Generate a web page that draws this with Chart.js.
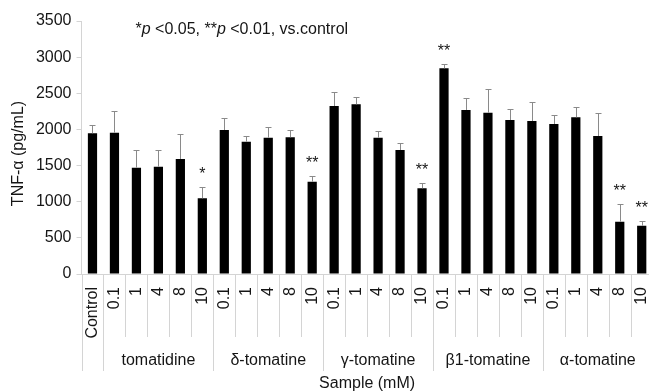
<!DOCTYPE html>
<html>
<head>
<meta charset="utf-8">
<script src="https://cdn.jsdelivr.net/npm/chart.js@4.4.0/dist/chart.umd.min.js"></script>
<style>
  html, body { margin: 0; padding: 0; background: #fff; overflow: hidden; }
  #wrap { width: 666px; height: 392px; }
</style>
</head>
<body>
<div id="wrap"><canvas id="chart"></canvas></div>
<script>
const categories = ['Control',
  '0.1', '1', '4', '8', '10',
  '0.1', '1', '4', '8', '10',
  '0.1', '1', '4', '8', '10',
  '0.1', '1', '4', '8', '10',
  '0.1', '1', '4', '8', '10'];
const groupNames = ['', 'tomatidine', 'δ-tomatine', 'γ-tomatine', 'β1-tomatine', 'α-tomatine'];
const groupSizes = [1, 5, 5, 5, 5, 5];
const tnfValues = [1946,
  1955, 1471, 1485, 1591, 1047,
  1992, 1830, 1886, 1891, 1277,
  2324, 2347, 1886, 1715, 1185,
  2845, 2269, 2232, 2130, 2116,
  2075, 2168, 1909, 724, 668];
const errorValues = [115,
  300, 244, 230, 346, 152,
  162, 79, 143, 105, 79,
  198, 106, 92, 101, 69,
  56, 170, 327, 152, 267,
  124, 146, 314, 240, 65];
const significance = ['',
  '', '', '', '', '*',
  '', '', '', '', '**',
  '', '', '', '', '**',
  '**', '', '', '', '',
  '', '', '', '**', '**'];
const yTicks = [0, 500, 1000, 1500, 2000, 2500, 3000, 3500];

const FONT = '"Liberation Sans", Arial, sans-serif';
const TEXT = '#151515';
const LIGHT = '#d4d4d4';

// error bars, stars, separators, group names and titles
const extras = {
  id: 'extras',
  afterDatasetsDraw(chart) {
    const { ctx, chartArea, scales: { x, y } } = chart;
    const meta = chart.getDatasetMeta(0);
    ctx.save();

    ctx.strokeStyle = '#8a8a8a';
    ctx.lineWidth = 1;
    ctx.fillStyle = TEXT;
    ctx.font = '16px ' + FONT;
    ctx.textAlign = 'center';
    ctx.textBaseline = 'middle';
    meta.data.forEach((bar, i) => {
      const top = Math.round(y.getPixelForValue(tnfValues[i] + errorValues[i])) + 0.5;
      const cx = Math.round(bar.x) + 0.5;
      ctx.beginPath();
      ctx.moveTo(cx, bar.y);
      ctx.lineTo(cx, top);
      ctx.moveTo(cx - 3, top);
      ctx.lineTo(cx + 3, top);
      ctx.stroke();
      if (significance[i]) {
        ctx.fillText(significance[i], bar.x, top - 13);
      }
    });

    // category separators below the axis
    const step = x.getPixelForValue(1) - x.getPixelForValue(0);
    const left = x.getPixelForValue(0) - step / 2;
    const bounds = [0];
    groupSizes.forEach(s => bounds.push(bounds[bounds.length - 1] + s));
    ctx.strokeStyle = LIGHT;
    for (let i = 0; i <= categories.length; i++) {
      const px = Math.round(left + i * step) + 0.5;
      ctx.beginPath();
      ctx.moveTo(px, chartArea.bottom + 1);
      ctx.lineTo(px, bounds.includes(i) ? chartArea.bottom + 97 : chartArea.bottom + 63);
      ctx.stroke();
    }

    // group names
    ctx.fillStyle = TEXT;
    groupNames.forEach((name, g) => {
      if (!name) return;
      const cx = left + (bounds[g] + groupSizes[g] / 2) * step;
      ctx.fillText(name, cx, chartArea.bottom + 87);
    });

    // axis titles
    ctx.fillText('Sample (mM)', (chartArea.left + chartArea.right) / 2, chart.height - 8);
    ctx.save();
    ctx.translate(19, (chartArea.top + chartArea.bottom) / 2 + 6);
    ctx.rotate(-Math.PI / 2);
    ctx.fillText('TNF-α (pg/mL)', 0, 0);
    ctx.restore();

    // note
    const parts = [['*', ''], ['p', 'italic '], [' <0.05, ', ''], ['**', ''], ['p', 'italic '], [' <0.01, vs.control', '']];
    let tx = chartArea.left + 54;
    const ty = chartArea.top + 13;
    ctx.textAlign = 'left';
    ctx.textBaseline = 'alphabetic';
    parts.forEach(([t, style]) => {
      ctx.font = style + '16px ' + FONT;
      ctx.fillText(t, tx, ty);
      tx += ctx.measureText(t).width;
    });
    ctx.restore();
  }
};

new Chart(document.getElementById('chart'), {
  type: 'bar',
  data: {
    labels: categories,
    datasets: [{
      label: 'TNF-α',
      data: tnfValues,
      backgroundColor: '#000',
      borderWidth: 0,
      barPercentage: 0.42,
      categoryPercentage: 1
    }]
  },
  options: {
    responsive: true,
    maintainAspectRatio: false,
    animation: false,
    layout: { padding: { top: 21, right: 4, left: 0, bottom: 0 } },
    plugins: {
      legend: { display: false },
      tooltip: { enabled: false }
    },
    scales: {
      x: {
        afterFit: s => { s.height = 118; },
        grid: { display: false },
        border: { display: true, color: LIGHT, width: 1 },
        ticks: {
          color: TEXT,
          font: { family: FONT, size: 16 },
          minRotation: 90,
          maxRotation: 90,
          autoSkip: false,
          padding: 5
        }
      },
      y: {
        min: 0,
        max: 3500,
        afterFit: s => { s.width = 81.5; },
        afterBuildTicks: s => { s.ticks = yTicks.map(v => ({ value: v })); },
        grid: { drawOnChartArea: false, color: LIGHT, tickLength: 5 },
        border: { display: true, color: LIGHT, width: 1 },
        ticks: {
          color: TEXT,
          font: { family: FONT, size: 16 },
          padding: 5,
          callback: v => String(v)
        }
      }
    }
  },
  plugins: [extras]
});
</script>
</body>
</html>
